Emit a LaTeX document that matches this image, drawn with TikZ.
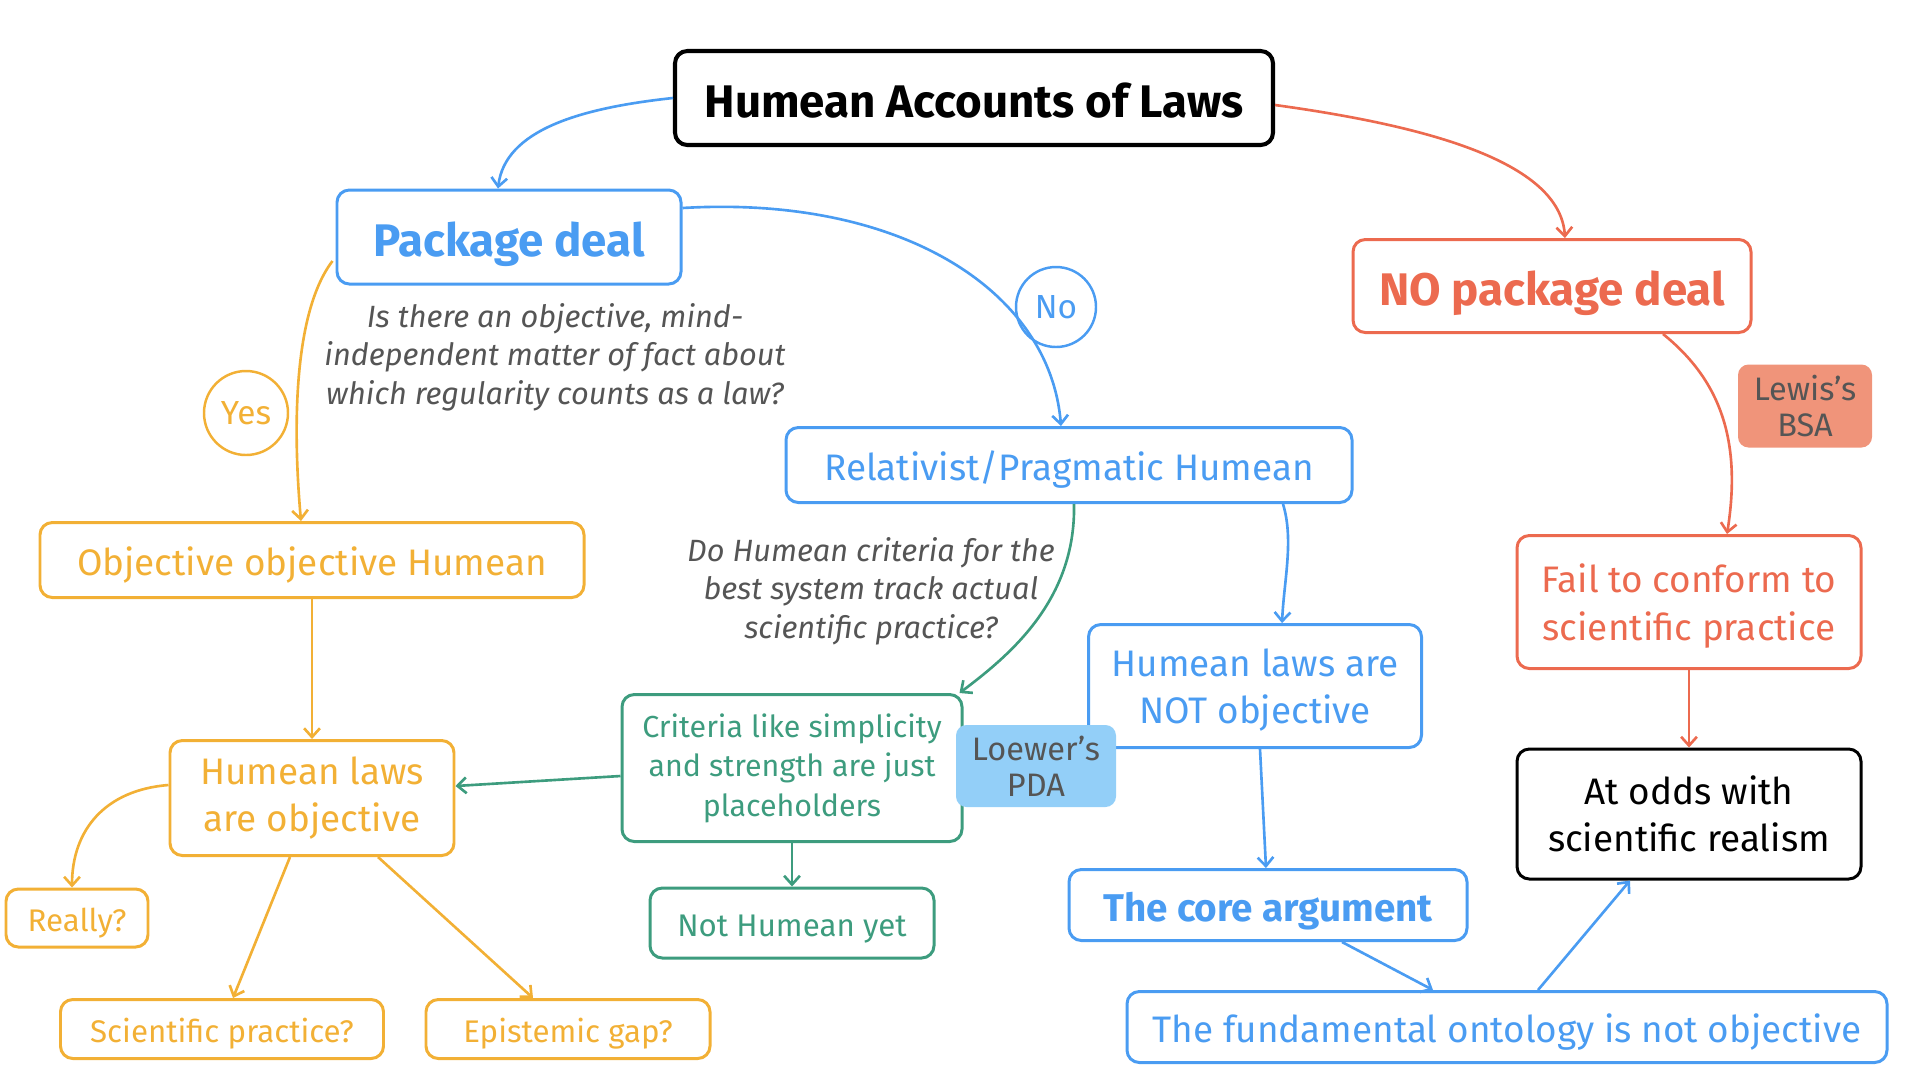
\documentclass[tikz,border=0pt]{standalone}
\usepackage{fontspec}
\setmainfont{Fira Sans}
\usetikzlibrary{positioning, arrows.meta, calc}
\definecolor{hBlue}{HTML}{4A9CF2}
\definecolor{hOrange}{HTML}{F2B035}
\definecolor{hRed}{HTML}{EC6A4F}
\definecolor{hGreen}{HTML}{3D9C7E}
\definecolor{qGray}{HTML}{555555}
\definecolor{hSalmon}{HTML}{F0947A}
\definecolor{hSky}{HTML}{93CFF8}

\begin{document}
\begin{tikzpicture}[x=0.02cm, y=-0.02cm,
  box/.style={draw, rounded corners=7pt, line width=1.7pt, align=center, inner sep=0pt},
  sz/.style 2 args={minimum width=#1*0.02cm, minimum height=#2*0.02cm},
  one/.style={text height=#1, text depth=0pt},
  big/.style={font=\fontsize{26}{30}\selectfont\bfseries, one=22pt},
  mid/.style={font=\fontsize{21}{27}\selectfont},
  leaf/.style={font=\fontsize{17.8}{21}\selectfont, one=15.1pt},
  ask/.style={align=center, text=qGray, font=\fontsize{17.5}{22}\selectfont\itshape},
  tag/.style={rounded corners=6pt, align=center, text=qGray, inner sep=0pt,
              font=\fontsize{18.5}{20.5}\selectfont},
  yn/.style={circle, draw, line width=1.4pt, inner sep=0pt, font=\fontsize{19}{20}\selectfont},
  link/.style={line width=1.5pt, -{Straight Barb[length=5pt, width=9pt]}},
]
  \useasboundingbox (0,0) rectangle (1920,1080);

  % Top: title and the two accounts
  \node[box, draw=black, line width=2.3pt, sz={598}{94}, big, text=black] (title) at (974,98) {Humean Accounts of Laws};
  \node[box, draw=hBlue, text=hBlue, sz={344}{94}, big] (pkg) at (509,237) {Package deal};
  \node[box, draw=hRed, text=hRed, sz={398}{93}, big] (nopkg) at (1552,286) {NO package deal};
  \node[ask] (qpkg) at (555,357) {Is there an objective, mind-\\independent matter of fact about\\which regularity counts as a law?};
  \node[yn, draw=hOrange, text=hOrange, minimum size=84*0.02cm] (yes) at (246,413) {Yes};
  \node[yn, draw=hBlue, text=hBlue, minimum size=80*0.02cm] (no) at (1056,307) {No};

  % Middle rows
  \node[box, draw=hBlue, text=hBlue, sz={566}{75}, mid, one=17.9pt] (rel) at (1069,465) {Relativist/Pragmatic Humean};
  \node[box, draw=hOrange, text=hOrange, sz={544}{75}, mid, one=17.9pt] (objobj) at (312,560) {Objective objective Humean};
  \node[ask] (qcrit) at (871,591) {Do Humean criteria for the\\best system track actual\\scientific practice?};
  \node[tag, fill=hSalmon, sz={134}{83}] (lewis) at (1805,406) {Lewis’s\\BSA};
  \node[box, draw=hRed, text=hRed, sz={344}{133}, mid, text depth=0pt] (fail) at (1689,602) {Fail to conform to\\scientific practice};
  \node[box, draw=hBlue, text=hBlue, sz={333}{123}, mid, text depth=0pt] (notobj) at (1255,686) {Humean laws are\\NOT objective};
  \node[box, draw=hGreen, text=hGreen, sz={340}{147}, font=\fontsize{17.3}{22.5}\selectfont] (crit) at (792,768) {Criteria like simplicity\\and strength are just\\placeholders};
  \node[tag, fill=hSky, sz={160}{82}] (loewer) at (1036,766) {Loewer’s\\PDA};
  \node[box, draw=hOrange, text=hOrange, sz={284}{115}, mid] (objl) at (312,798) {Humean laws\\are objective};
  \node[box, draw=black, sz={344}{130}, mid] (odds) at (1689,814) {At odds with\\scientific realism};

  % Bottom rows
  \node[box, draw=hOrange, text=hOrange, sz={142}{58}, leaf] (really) at (77,918) {Really?};
  \node[box, draw=hGreen, text=hGreen, sz={284}{70}, leaf] (nothum) at (792,923) {Not Humean yet};
  \node[box, draw=hBlue, text=hBlue, sz={398}{71}, font=\fontsize{22}{26}\selectfont\bfseries, one=18.7pt] (core) at (1268,905) {The core argument};
  \node[box, draw=hOrange, text=hOrange, sz={323}{59}, leaf] (scip) at (222,1029) {Scientific practice?};
  \node[box, draw=hOrange, text=hOrange, sz={284}{59}, leaf] (gap) at (568,1029) {Epistemic gap?};
  \node[box, draw=hBlue, text=hBlue, sz={760}{71}, mid, one=17.9pt] (fund) at (1507,1027) {The fundamental ontology is not objective};

  % Connectors
  \draw[link, hBlue] (title.west) .. controls (580,108) and (505,130) .. ($(pkg.north)+(-11,0)$);
  \draw[link, hRed] ($(title.east)+(0,7)$) .. controls (1420,125) and (1560,160) .. ($(nopkg.north)+(13,0)$);
  \draw[link, hBlue] ($(pkg.east)+(0,-29)$) .. controls (900,195) and (1050,290) .. ($(rel.north)+(-8,0)$);
  \draw[link, hOrange] ($(pkg.west)+(-3,24)$) .. controls (295,310) and (292,420) .. ($(objobj.north)+(-11,0)$);
  \draw[link, hRed] ($(nopkg.south)+(111,0)$) .. controls (1720,380) and (1742,440) .. ($(fail.north)+(38,0)$);
  \draw[link, hGreen] ($(rel.south)+(5,0)$) .. controls (1076,600) and (1010,655) .. ($(crit.north east)+(-4,0)$);
  \draw[link, hBlue] ($(rel.south)+(214,0)$) .. controls (1294,540) and (1284,580) .. ($(notobj.north)+(27,0)$);
  \draw[link, hOrange] (objobj.south) -- (objl.north);
  \draw[link, hGreen] ($(crit.west)+(0,8)$) -- ($(objl.east)+(0,-12)$);
  \draw[link, hGreen] (crit.south) -- (nothum.north);
  \draw[link, hOrange] ($(objl.west)+(0,-13)$) .. controls (105,790) and (72,830) .. ($(really.north)+(-5,0)$);
  \draw[link, hOrange] ($(objl.south)+(-22,0)$) -- ($(scip.north)+(11,0)$);
  \draw[link, hOrange] ($(objl.south)+(66,0)$) -- ($(gap.north)+(-35,0)$);
  \draw[link, hBlue] ($(notobj.south)+(5,0)$) -- ($(core.north)+(-2,0)$);
  \draw[link, hBlue] ($(core.south)+(74,0)$) -- ($(fund.north)+(-74,0)$);
  \draw[link, hBlue] ($(fund.north)+(31,0)$) -- ($(odds.south)+(-59,0)$);
  \draw[link, hRed] (fail.south) -- (odds.north);
\end{tikzpicture}
\end{document}
